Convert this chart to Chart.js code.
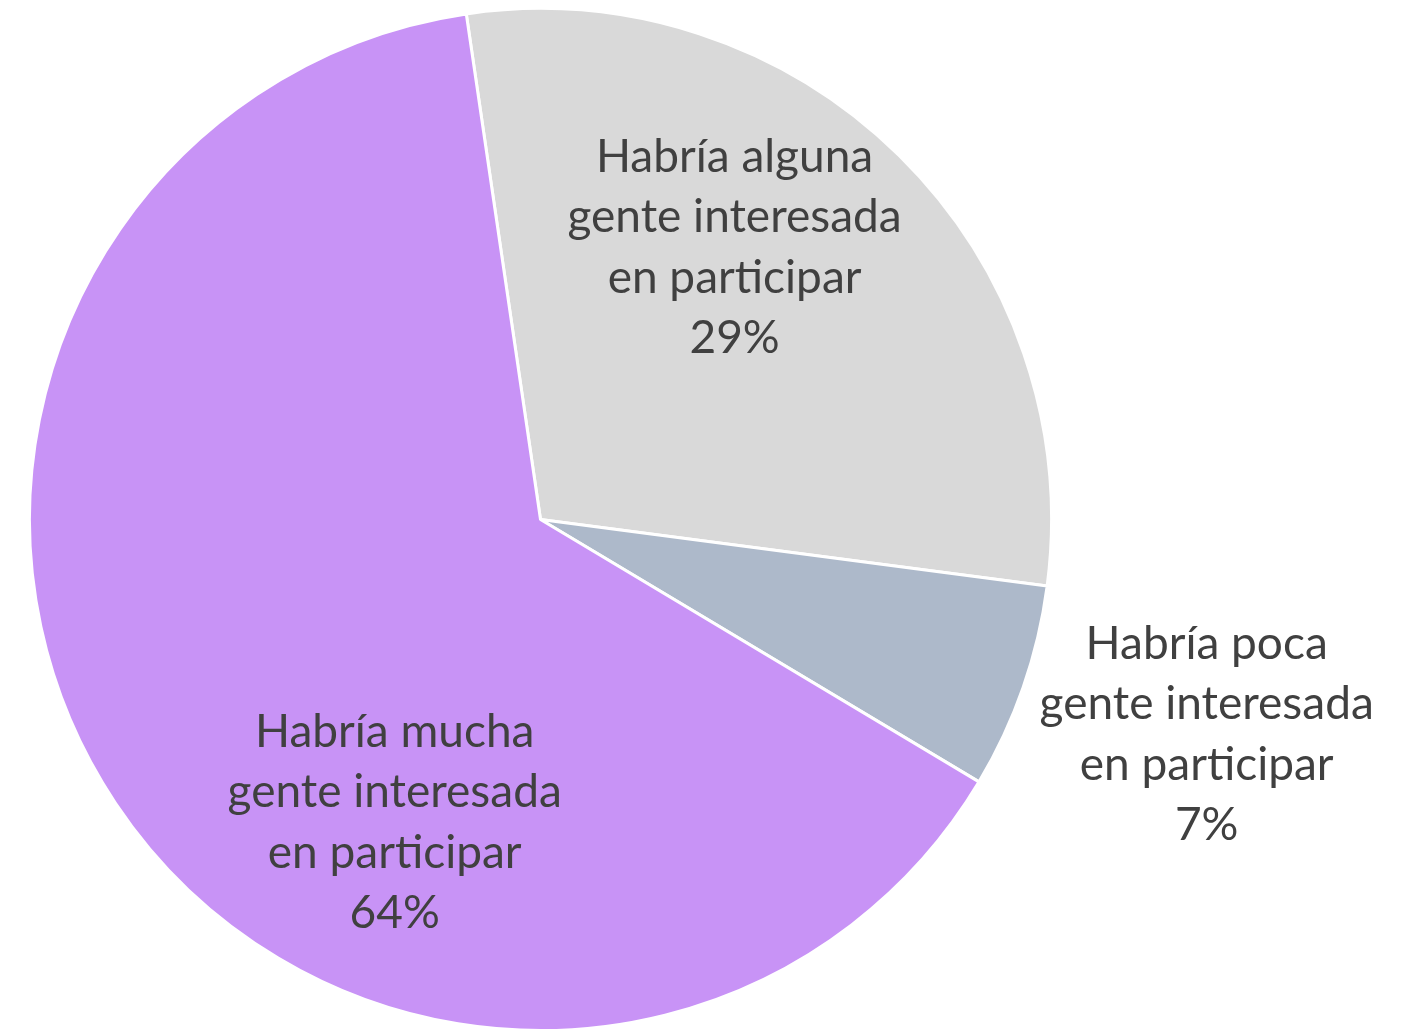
<!DOCTYPE html>
<html>
<head>
<meta charset="utf-8">
<script src="https://cdn.jsdelivr.net/npm/chart.js@4/dist/chart.umd.min.js"></script>
<style>
  html, body { margin: 0; padding: 0; background: #fff; }
  #wrap { width: 1420px; height: 1032px; }
</style>
</head>
<body>
<div id="wrap"><canvas id="pie"></canvas></div>
<script>
var labels = [
  ['Habría alguna', 'gente interesada', 'en participar'],
  ['Habría poca', 'gente interesada', 'en participar'],
  ['Habría mucha', 'gente interesada', 'en participar']
]
var values = [29.4, 6.5, 64.1]
var colors = ['#d9d9d9', '#adb9ca', '#c893f6']

// where each label sits: angle in degrees (clockwise from top), distance as part of the radius
var labelSpots = [
  { angle: 35.5, dist: 0.654 },
  { angle: 107.9, dist: 1.37 },
  { angle: 205.7, dist: 0.658 }
]

const sliceLabels = {
  id: 'sliceLabels',
  afterDatasetsDraw(chart) {
    const ctx = chart.ctx
    const meta = chart.getDatasetMeta(0)
    ctx.save()
    ctx.font = '46px Lato, "Open Sans", sans-serif'
    ctx.fillStyle = '#404040'
    ctx.textAlign = 'center'
    ctx.textBaseline = 'middle'
    meta.data.forEach(function (arc, i) {
      const p = arc.getProps(['x', 'y', 'outerRadius'], true)
      const a = (labelSpots[i].angle - 90) * Math.PI / 180
      const r = p.outerRadius * labelSpots[i].dist
      const cx = p.x + Math.cos(a) * r
      const cy = p.y + Math.sin(a) * r
      const lines = labels[i].concat([Math.round(values[i]) + '%'])
      const lh = 60.5
      lines.forEach(function (line, j) {
        ctx.fillText(line, cx, cy + (j - (lines.length - 1) / 2) * lh)
      })
    })
    ctx.restore()
  }
}

new Chart(document.getElementById('pie'), {
  type: 'pie',
  data: {
    labels: labels.map(function (l) { return l.join(' ') }),
    datasets: [{
      data: values,
      backgroundColor: colors,
      borderColor: '#ffffff',
      borderWidth: 3
    }]
  },
  options: {
    responsive: true,
    maintainAspectRatio: false,
    animation: false,
    rotation: -8.35,
    layout: { padding: { left: 28, right: 367, top: 7, bottom: 0 } },
    plugins: {
      legend: { display: false },
      tooltip: { enabled: false }
    }
  },
  plugins: [sliceLabels]
})
</script>
</body>
</html>
